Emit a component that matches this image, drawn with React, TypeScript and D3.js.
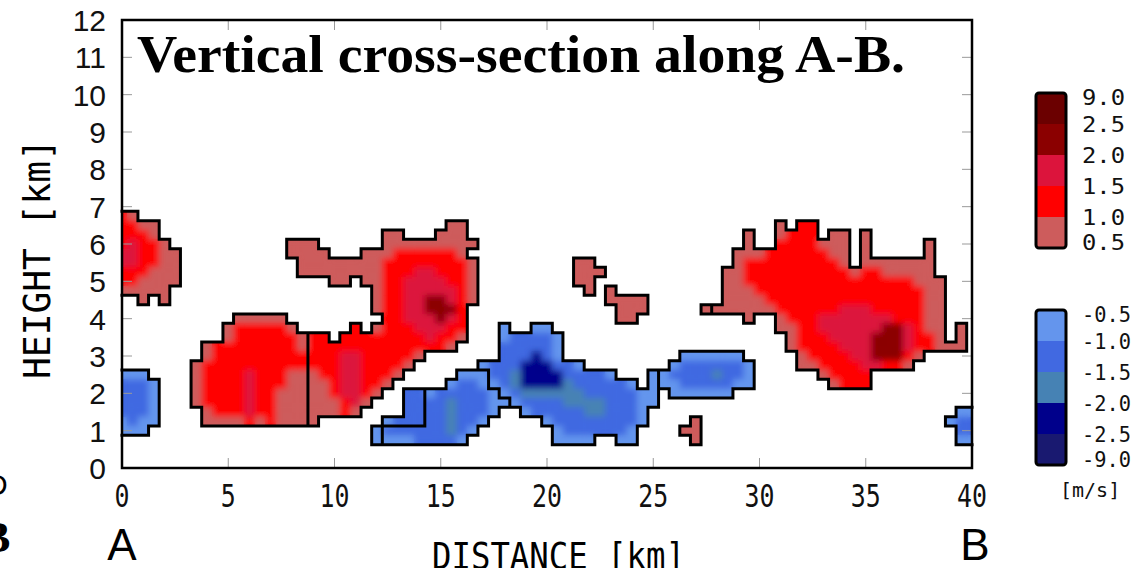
import React from "react";
import * as d3 from "d3";

const width = 1133;
const height = 568;

// axes
const xTicks = [0, 5, 10, 15, 20, 25, 30, 35, 40];
const yTicks = [0, 1, 2, 3, 4, 5, 6, 7, 8, 9, 10, 11, 12];

// colour classes (weak -> strong)
const redColors = ["#cd5c5c", "#ff0000", "#dc143c", "#8b0000", "#6b0000"];
const blueColors = ["#6495ed", "#4169e1", "#4682b4", "#00008b", "#191970"];

// legend, top -> bottom
const posLabels = ["9.0", "2.5", "2.0", "1.5", "1.0", "0.5"];
const posLevels = [4, 3, 2, 1, 0];
const negLabels = ["-0.5", "-1.0", "-1.5", "-2.0", "-2.5", "-9.0"];
const negLevels = [0, 1, 2, 3, 4];

// grid: 0.5 km in distance, 0.25 km in height
const dx = 0.5;
const dz = 0.25;

// "row col codes": a-e red classes, A-E blue classes,
// f-j / F-J same classes but a neighbouring cell (own contour)
const cellRuns = [
  // left red
  "27 0 ba", "26 0 bbaa", "25 0 bbba", "24 0 bcbba", "23 0 ccbbaa", "22 0 ccbbaa",
  "21 0 bbbaaa", "20 0 bbaaaa", "19 0 aaaaa", "18 2 a", "18 4 a",
  // red 3-9 km
  "16 11 aaaaa", "15 10 abbbbba", "14 10 abbbbbba", "13 8 abbbbbbbba", "12 8 abbbbbbbbb",
  "11 7 abbbbbbbbbb", "10 7 abbbbcbbbaa", "9 7 abbbbcbbbaa", "8 7 abbbbcbbaaa",
  "7 7 abbbbcbbaaa", "6 8 abbbcbbaaa", "5 8 aaaababaaa",
  // red 8-17 km
  "26 31 ff", "25 25 ff", "25 30 fff", "24 16 fff", "24 25 fffffffff",
  "23 16 ffff", "23 23 fffggggggf", "22 17 ffffffffggggggggf", "21 17 ffffffffggghhgggf",
  "20 20 ff", "20 23 ffgghhhhggf", "19 24 fgghhhhhgf", "18 24 fgghhiihgf",
  "17 24 fgghhiiig", "16 25 gghhhihg", "15 22 g", "15 24 fggghhhgg",
  "14 18 gg", "14 21 gggggggghggf", "13 18 gggggggggggggf", "12 18 ggghhgggggf",
  "11 18 ggghhggggf", "10 18 fgghhgggf", "9 18 ffghhggf", "8 18 ffghhgf",
  "7 18 fffghf", "6 18 fffgf", "5 18 f",
  // small red cells
  "22 43 aa", "21 43 aaa", "20 43 aa", "19 44 a",
  "19 46 a", "18 46 aaaa", "17 47 aaa", "16 47 aa",
  "5 54 a", "4 53 aa", "3 54 a",
  // red 27-40 km
  "26 62 a", "26 64 bb", "25 59 a", "25 62 abbb", "25 67 aa", "25 70 a",
  "24 59 a", "24 62 bbbbaaa", "24 70 a", "24 76 a",
  "23 58 aaabbbbbbaa", "23 70 a", "23 76 a",
  "22 58 abbbbbbbbba", "22 70 aaaaaaa",
  "21 57 aabbbbbbbbbbabbaaaaa", "20 57 aabbbbbbbbbbbbbbbbaaa",
  "19 57 aaabbbbbbbbbbbbbbbbaa", "18 57 aaaabbbbbbbbbbbbbbbaa",
  "17 55 faaaaaabbbbbbcccbbbbbaa", "16 59 a", "16 62 abbbcccccccbbbaa",
  "15 62 aabbccccccddcbaa", "15 79 a", "14 63 abbbccccdddcbba", "14 79 a",
  "13 63 abbbbcccdddcbbaaa", "12 64 abbbbccdddba", "11 64 aabbbbccbba",
  "10 66 abbbb", "9 67 abbb",
  // left blue
  "10 0 AAA", "9 0 BBBA", "8 0 BBBA", "7 0 BBBA", "6 0 BBBA", "5 0 ABAA", "4 0 AAA",
  // blue 12-25 km
  "4 24 F", "3 24 F", "8 27 GG", "7 27 GG", "6 27 GG", "5 25 FGGG",
  "10 32 AAA", "9 31 ABBA", "8 29 ABBBBBA", "7 29 BBCBBBAA", "6 29 BBCBBBA",
  "5 29 BBCBBA", "4 25 BBBBBBCBA", "3 25 AAABBBBA",
  "15 36 F", "15 39 FF", "14 36 FGGGGF", "13 36 GGGGGF", "12 36 GGGIGF",
  "11 34 FGGGIIIGGF", "10 35 GGHIIIIGGGGF", "10 50 F", "9 35 FGHIIIIHGGGGGF", "9 50 F",
  "8 36 FGHHHHHHGGGGGFF", "7 37 FGGGGHHHHGGGFF", "6 38 FGGGGGHHGGGF",
  "5 40 FGGGGGGGGF", "4 41 FGGGGGGF", "3 41 FFFF", "3 47 FF",
  // blue 25-30 km
  "12 53 AAAAAA", "11 52 ABBBBBBA", "10 51 ABBBBCBBA", "9 51 AABBBBBAA", "8 52 AAAAAA",
  // blue at B
  "6 79 AA", "5 78 ABB", "4 79 BB", "3 79 AA",
];

type Cell = { i: number; j: number; color: string; key: string };

const decode = (ch: string) => {
  const low = ch.toLowerCase();
  const idx = "abcdefghij".indexOf(low);
  const level = idx % 5;
  const group = idx >= 5 ? 1 : 0;
  const pos = ch === low;
  return {
    color: pos ? redColors[level] : blueColors[level],
    key: (pos ? "p" : "n") + group,
  };
};

const App = () => {
  const xScale = d3.scaleLinear().domain([0, 40]).range([122, 972]);
  const yScale = d3.scaleLinear().domain([0, 12]).range([468, 20]);

  const cells: Cell[] = [];
  const lookup = new Map<string, string>();
  cellRuns.forEach(run => {
    const [r, c, codes] = run.split(" ");
    codes.split("").forEach((ch, k) => {
      const i = +c + k;
      const j = +r;
      const { color, key } = decode(ch);
      cells.push({ i, j, color, key });
      lookup.set(`${i},${j}`, key);
    });
  });

  const box = (i: number, j: number) => ({
    left: xScale(Math.max(0, i * dx - dx / 2)),
    right: xScale(Math.min(40, i * dx + dx / 2)),
    top: yScale(j * dz + dz / 2),
    bottom: yScale(Math.max(0, j * dz - dz / 2)),
  });

  // contour edges: between a cell and empty space, or two different cells
  const segs: string[] = [];
  cells.forEach(c => {
    const b = box(c.i, c.j);
    const nb = (di: number, dj: number) => lookup.get(`${c.i + di},${c.j + dj}`);
    const L = nb(-1, 0), R = nb(1, 0), T = nb(0, 1), B = nb(0, -1);
    if (c.i > 0 && L === undefined) segs.push(`M${b.left},${b.top}V${b.bottom}`);
    if (c.i < 80 && R !== c.key) segs.push(`M${b.right},${b.top}V${b.bottom}`);
    if (T !== c.key) segs.push(`M${b.left},${b.top}H${b.right}`);
    if (B === undefined) segs.push(`M${b.left},${b.bottom}H${b.right}`);
  });

  const rects = (prefix: string) =>
    cells.map(c => {
      const b = box(c.i, c.j);
      return (
        <rect
          key={`${prefix}${c.i}-${c.j}`}
          x={b.left}
          y={b.top}
          width={b.right - b.left + 0.5}
          height={b.bottom - b.top + 0.5}
          fill={c.color}
        />
      );
    });

  const mono = "'DejaVu Sans Mono', monospace";

  const legend = (top: number, labels: string[], levels: number[], colors: string[]) => {
    const h = 155;
    const cellH = h / levels.length;
    return (
      <g>
        {levels.map((lv, k) => (
          <rect key={k} x={1036} y={top + k * cellH} width={30} height={cellH} fill={colors[lv]} />
        ))}
        <rect x={1036} y={top} width={30} height={h} fill="none" stroke="#000" strokeWidth={3} rx={3} />
        {labels.map((t, k) => {
          const cy = top + Math.min(h - 6, Math.max(4, k * cellH));
          return (
            <text key={t} x={1082} y={cy + 7.5} fontFamily={mono} fontSize={21} fill="#111"
              textLength={t.length > 3 ? 49 : 43} lengthAdjust="spacingAndGlyphs">
              {t}
            </text>
          );
        })}
      </g>
    );
  };

  return (
    <div style={{ position: "absolute", left: 0, top: 0 }}>
      <svg width={width} height={height} style={{ display: "block", background: "#fff" }}>
        <defs>
          <filter id="fillBlur" x="-5%" y="-5%" width="110%" height="110%">
            <feGaussianBlur stdDeviation={3} />
          </filter>
          <clipPath id="cellClip">{rects("c")}</clipPath>
        </defs>

        {/* cut-off letters of the neighbouring panel */}
        <text x={-14} y={495} fontFamily="'Liberation Sans', sans-serif" fontSize={30}>D</text>
        <text x={-19} y={552} fontFamily="'Liberation Serif', serif" fontWeight="bold" fontSize={44}>B</text>

        <g shapeRendering="crispEdges">{rects("f")}</g>
        <g clipPath="url(#cellClip)">
          <g filter="url(#fillBlur)">{rects("b")}</g>
        </g>
        <path d={segs.join("")} fill="none" stroke="#000" strokeWidth={3} strokeLinecap="square" />

        {/* ticks */}
        <g stroke="#999" strokeWidth={1}>
          {yTicks.map(t => (
            <g key={t}>
              <line x1={122} x2={132} y1={yScale(t)} y2={yScale(t)} />
              <line x1={962} x2={972} y1={yScale(t)} y2={yScale(t)} />
            </g>
          ))}
          {xTicks.map(t => (
            <g key={t}>
              <line x1={xScale(t)} x2={xScale(t)} y1={468} y2={458} />
              <line x1={xScale(t)} x2={xScale(t)} y1={20} y2={30} />
            </g>
          ))}
        </g>
        <rect x={122} y={20} width={850} height={448} fill="none" stroke="#000" strokeWidth={2.5} />

        {yTicks.map(t => (
          <text key={t} x={106} y={yScale(t) + 11} textAnchor="end"
            fontFamily="'Liberation Sans', sans-serif" fontSize={30} fill="#111">
            {t}
          </text>
        ))}
        {xTicks.map(t => (
          <text key={t} x={xScale(t)} y={507} textAnchor="middle" fontFamily={mono} fontSize={32}
            textLength={String(t).length * 15} lengthAdjust="spacingAndGlyphs" fill="#111">
            {t}
          </text>
        ))}

        <text x={122} y={560} textAnchor="middle" fontFamily="'Liberation Sans', sans-serif" fontSize={44}>A</text>
        <text x={975} y={560} textAnchor="middle" fontFamily="'Liberation Sans', sans-serif" fontSize={44}>B</text>
        <text x={432} y={569} fontFamily={mono} fontSize={38} textLength={253} lengthAdjust="spacingAndGlyphs">
          DISTANCE [km]
        </text>
        <text transform="translate(50,259) rotate(-90)" textAnchor="middle" fontFamily={mono} fontSize={38}
          textLength={240} lengthAdjust="spacingAndGlyphs">
          HEIGHT [km]
        </text>

        <text x={137} y={72} fontFamily="'Liberation Serif', serif" fontWeight="bold" fontSize={52}
          textLength={768} lengthAdjust="spacingAndGlyphs">
          Vertical cross-section along A-B.
        </text>

        {legend(93, posLabels, posLevels, redColors)}
        {legend(310, negLabels, negLevels, blueColors)}
        <text x={1060} y={497} fontFamily={mono} fontSize={20} fill="#111">[m/s]</text>
      </svg>
    </div>
  );
};

export default App;
